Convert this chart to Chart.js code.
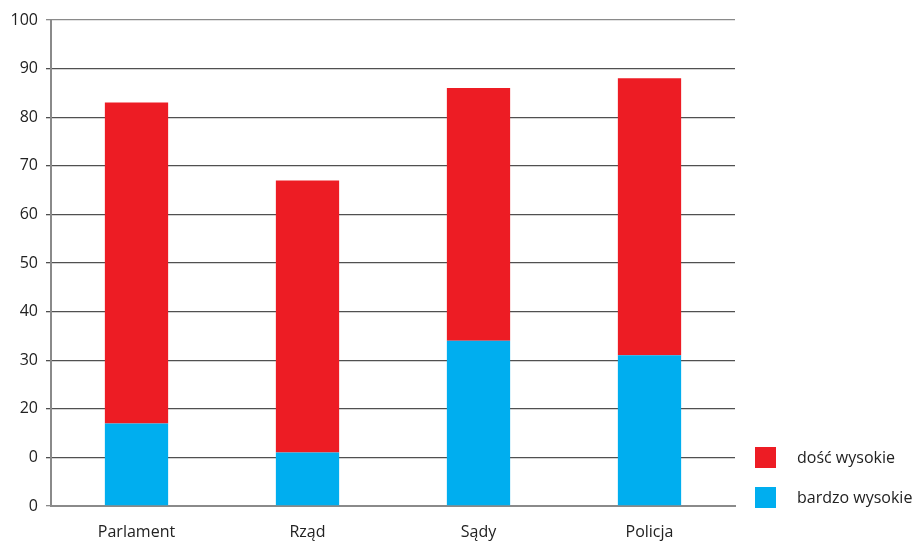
<!DOCTYPE html>
<html>
<head>
<meta charset="utf-8">
<script src="https://cdn.jsdelivr.net/npm/chart.js@4"></script>
<style>
  html, body { margin: 0; padding: 0; background: #fff; }
  .chart-container { position: relative; width: 916px; height: 543px; }
</style>
</head>
<body>
<div class="chart-container">
  <canvas id="barchart"></canvas>
</div>
<script>
const categories = ["Parlament", "Rząd", "Sądy", "Policja"];
const bardzoWysokie = [17, 11, 34, 31];
const doscWysokie = [66, 56, 52, 57];
// axis labels as printed, bottom to top
const tickLabels = ["0", "0", "20", "30", "40", "50", "60", "70", "80", "90", "100"];

const FONT = "'Open Sans', sans-serif";
const GRID = "#8a8a8a";
const GRID_DARK = "#505050";

// legend drawn by hand in the right margin, top entry = last dataset
const sideLegend = {
  id: "sideLegend",
  afterDraw(chart) {
    const { ctx, chartArea } = chart;
    const x = chartArea.right + 20;
    const size = 21;
    const rowGap = 40;
    const sets = chart.data.datasets.slice().reverse();
    let y = chartArea.bottom - 59;
    ctx.save();
    ctx.font = "16px " + FONT;
    ctx.textBaseline = "middle";
    ctx.textAlign = "left";
    sets.forEach((ds) => {
      ctx.fillStyle = ds.backgroundColor;
      ctx.fillRect(x, y, size, size);
      ctx.fillStyle = "#222";
      ctx.fillText(ds.label, x + size + 21, y + size / 2 + 1);
      y += rowGap;
    });
    ctx.restore();
  },
};

const ctx = document.getElementById("barchart");

new Chart(ctx, {
  type: "bar",
  data: {
    labels: categories,
    datasets: [
      {
        label: "bardzo wysokie",
        data: bardzoWysokie,
        backgroundColor: "#00aeef",
      },
      {
        label: "dość wysokie",
        data: doscWysokie,
        backgroundColor: "#ed1c24",
      },
    ],
  },
  options: {
    responsive: true,
    maintainAspectRatio: false,
    animation: false,
    layout: {
      padding: { top: 20, left: 0, right: 181, bottom: 0 },
    },
    datasets: {
      bar: {
        barPercentage: 0.37,
        categoryPercentage: 1,
      },
    },
    plugins: {
      title: { display: false },
      tooltip: { enabled: false },
      legend: { display: false },
    },
    scales: {
      x: {
        stacked: true,
        grid: { display: false },
        border: { display: true, color: GRID, width: 2 },
        ticks: {
          color: "#222",
          padding: 9,
          font: { family: FONT, size: 16 },
        },
        afterFit: (axis) => { axis.height = 37; },
      },
      y: {
        stacked: true,
        min: 0,
        max: 100,
        grid: {
          // inner lines darker, top and bottom edge lighter
          color: (c) => (c.index === 0 || c.index === 10 ? GRID : GRID_DARK),
          lineWidth: 1.3,
          tickLength: 5,
        },
        border: { display: true, color: GRID, width: 2 },
        ticks: {
          stepSize: 10,
          color: "#222",
          padding: 8,
          font: { family: FONT, size: 16 },
          callback: (value) => tickLabels[Math.round(value / 10)],
        },
        afterFit: (axis) => { axis.width = 51; },
      },
    },
  },
  plugins: [sideLegend],
});
</script>
</body>
</html>
